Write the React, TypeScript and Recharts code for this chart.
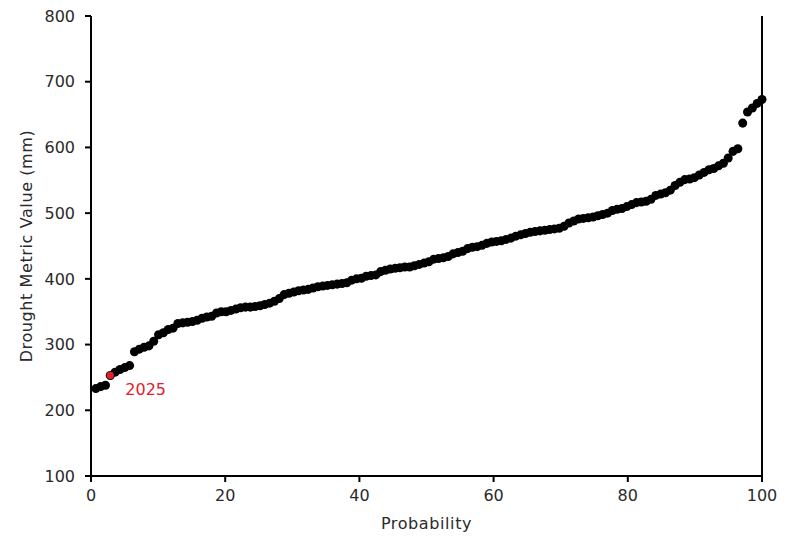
import {
  ScatterChart,
  Scatter,
  XAxis,
  YAxis,
  ZAxis,
  ReferenceLine,
} from "recharts";

// drought metric values, sorted ascending (mm)
const metricValues = [
  233, 236, 238, 253, 258, 262, 265, 268,
  289, 293, 296, 298, 305, 315, 318, 323, 325,
  332, 333, 334, 335, 337, 340, 342, 343, 348, 350, 350, 352, 354, 356, 357, 357, 358, 359, 361, 363, 366, 370,
  376, 378, 380, 382, 383, 384, 386, 388, 389, 390, 391, 392, 393, 394,
  398, 400, 401,
  404, 405, 406,
  411, 413, 415, 416, 417, 418, 418, 420, 422, 424, 426, 430, 431, 432, 434, 438, 440, 442, 446, 448, 449,
  451, 454, 456, 457, 458, 460, 462, 465, 467, 469, 471, 472, 473, 474, 475, 476, 477, 480, 485, 488,
  491, 492, 493, 494, 496, 498, 500, 504, 506, 507, 510, 513, 516, 517, 518, 521, 527, 529, 531, 535,
  542, 547, 551, 552, 554, 558, 562, 566, 568, 572, 576, 584, 594, 598,
  637, 654, 660, 667, 673,
];
const highlightRank = 4;
const highlightLabel = "2025";
const xTicks = [0, 20, 40, 60, 80, 100];
const yTicks = [100, 200, 300, 400, 500, 600, 700, 800];

const n = metricValues.length;
const points = metricValues.map((v, i) => ({ p: ((i + 1) / n) * 100, v }));
const highlight = [points[highlightRank - 1]];

const font = "'DejaVu Sans', sans-serif";
const textColor = "#2a2a2a";
const tickStyle = { fill: textColor, fontSize: 16, fontFamily: font };

function RedDot(props: any) {
  const { cx, cy } = props;
  return (
    <g>
      <circle cx={cx} cy={cy} r={3.6} fill="#e3202b" />
      <text x={cx + 15} y={cy + 20} fill="#e3202b" fontSize={16} fontFamily={font}>
        {highlightLabel}
      </text>
    </g>
  );
}

export default function App() {
  return (
    <div style={{ position: "absolute", left: 0, top: 0, background: "#fff" }}>
      <ScatterChart
        width={787}
        height={536}
        margin={{ top: 16, right: 25, left: 30, bottom: 28 }}
      >
        <XAxis
          type="number"
          dataKey="p"
          domain={[0, 100]}
          ticks={xTicks}
          height={32}
          tick={tickStyle}
          tickSize={6}
          tickMargin={8}
          axisLine={{ stroke: "#000", strokeWidth: 2 }}
          tickLine={{ stroke: "#000", strokeWidth: 2 }}
          label={{ value: "Probability", position: "insideBottom", offset: -21, fill: textColor, fontSize: 16, fontFamily: font, letterSpacing: 0.6 }}
        />
        <YAxis
          type="number"
          dataKey="v"
          domain={[100, 800]}
          ticks={yTicks}
          width={61}
          tick={tickStyle}
          tickSize={6}
          tickMargin={10}
          axisLine={{ stroke: "#000", strokeWidth: 2 }}
          tickLine={{ stroke: "#000", strokeWidth: 2 }}
          label={{ value: "Drought Metric Value (mm)", angle: -90, position: "insideLeft", offset: -4, style: { textAnchor: "middle" }, fill: textColor, fontSize: 16, fontFamily: font, letterSpacing: 0.6 }}
        />
        <ZAxis range={[44, 44]} />
        <ReferenceLine x={100} stroke="#000" strokeWidth={2} />
        <Scatter data={points} fill="#000" isAnimationActive={false} />
        <Scatter data={highlight} shape={<RedDot />} isAnimationActive={false} />
      </ScatterChart>
    </div>
  );
}
